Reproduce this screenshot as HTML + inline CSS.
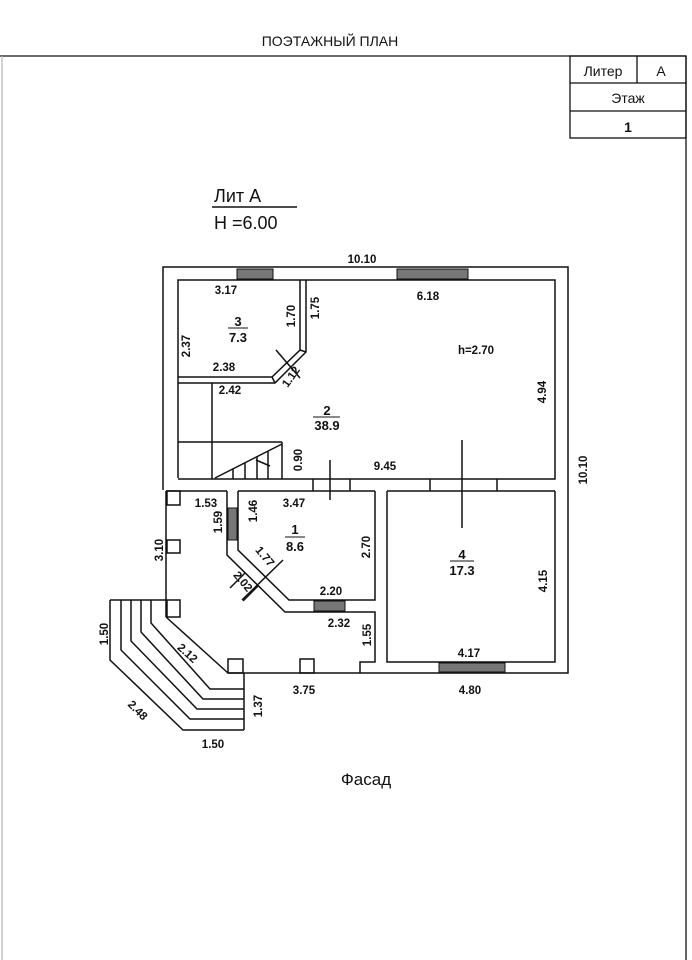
<!DOCTYPE html>
<html><head><meta charset="utf-8"><style>
html,body{margin:0;padding:0;background:#fff;}
svg{display:block;}
text{font-family:"Liberation Sans",sans-serif;fill:#111;}
.n{font-family:"Liberation Sans Narrow","Liberation Sans",sans-serif;font-size:11.5px;font-weight:bold;}
</style></head><body>
<svg width="692" height="960" viewBox="0 0 692 960" xmlns="http://www.w3.org/2000/svg">
<rect width="692" height="960" fill="#fff"/>
<g stroke="#111" stroke-width="1.3" fill="none">
<line x1="0" y1="56" x2="686" y2="56"/>
<line x1="686" y1="56" x2="686" y2="960"/>
<line x1="2" y1="56" x2="2" y2="960" stroke="#bbb"/>
<rect x="570" y="56" width="116" height="82"/>
<line x1="570" y1="83" x2="686" y2="83"/>
<line x1="570" y1="111" x2="686" y2="111"/>
<line x1="637" y1="56" x2="637" y2="83"/>
<line x1="212" y1="207" x2="297" y2="207" stroke-width="1.6"/>
</g>
<text x="330" y="46" font-size="14" text-anchor="middle">ПОЭТАЖНЫЙ ПЛАН</text>
<text x="603" y="76" font-size="14" text-anchor="middle">Литер</text>
<text x="661" y="76" font-size="14" text-anchor="middle">A</text>
<text x="628" y="103" font-size="14" text-anchor="middle">Этаж</text>
<text x="628" y="132" font-size="14" text-anchor="middle" font-weight="bold">1</text>
<text x="214" y="202" font-size="18">Лит   А</text>
<text x="214" y="229" font-size="18">Н =6.00</text>
<text x="366" y="785" font-size="17" text-anchor="middle">Фасад</text>

<g stroke="#111" stroke-width="1.5" fill="none">
<polyline points="163,490 163,267 568,267 568,673 228,673"/>
<polyline points="178,478 178,280 555,280 555,479 178,479"/>
<polyline points="178,377 272,377 300,350 300,280"/>
<polyline points="178,383 275,383 306,352 306,280"/>
<line x1="272" y1="377" x2="275" y2="383"/>
<line x1="300" y1="350" x2="306" y2="352"/>
<line x1="276" y1="350" x2="300" y2="378"/>
<line x1="212" y1="383" x2="212" y2="479"/>
<line x1="178" y1="442" x2="282" y2="442"/>
<line x1="282" y1="442" x2="282" y2="479"/>
<line x1="215" y1="478" x2="282" y2="444"/>
<line x1="233" y1="469" x2="233" y2="479"/>
<line x1="245" y1="463" x2="245" y2="479"/>
<line x1="257" y1="457" x2="257" y2="479"/>
<line x1="268" y1="451" x2="268" y2="479"/>
<line x1="256" y1="460" x2="270" y2="466"/>
<line x1="166" y1="491" x2="227" y2="491"/>
<line x1="166" y1="491" x2="166" y2="617"/>
<line x1="238" y1="491" x2="375" y2="491"/>
<line x1="387" y1="491" x2="555" y2="491"/>
<polyline points="387,491 387,662 555,662 555,491"/>
<polyline points="227,491 227,555 285,612 375,612 375,662 360,662 360,673"/>
<polyline points="238,491 238,550 289,600 375,600 375,491"/>
<line x1="245" y1="573" x2="230" y2="588"/>
<line x1="258" y1="586" x2="243" y2="601"/>
<line x1="242" y1="600" x2="283" y2="560"/>
<line x1="313" y1="479" x2="313" y2="491"/><line x1="350" y1="479" x2="350" y2="491"/>
<line x1="430" y1="479" x2="430" y2="491"/><line x1="497" y1="479" x2="497" y2="491"/>
<line x1="330" y1="460" x2="330" y2="500"/>
<line x1="462" y1="440" x2="462" y2="528"/>
<rect x="167" y="491" width="13" height="14"/>
<rect x="167" y="540" width="13" height="13"/>
<rect x="167" y="600" width="13" height="17"/>
<rect x="228" y="659" width="15" height="14"/>
<rect x="300" y="659" width="14" height="14"/>
<line x1="166" y1="617" x2="228" y2="673"/>
<polyline points="110,600 166,600"/>
<polyline points="110,600 110,660 183,730 244,730"/>
<polyline points="121,600 121,650 190,719 244,719"/>
<polyline points="131,600 131,641 197,709 244,709"/>
<polyline points="141,600 141,632 203,699 244,699"/>
<polyline points="151,600 151,623 210,689 244,689"/>
<line x1="244" y1="673" x2="244" y2="730"/>
</g>
<g fill="#777" stroke="#111" stroke-width="1">
<rect x="237" y="269" width="36" height="10"/>
<rect x="397" y="269" width="71" height="10"/>
<rect x="439" y="663" width="66" height="9"/>
<rect x="228" y="508" width="9" height="32"/>
<rect x="314" y="601" width="31" height="10"/>
</g>
<g class="n">
<text x="362" y="263" text-anchor="middle">10.10</text>
<text x="226" y="294" text-anchor="middle">3.17</text>
<text x="428" y="300" text-anchor="middle">6.18</text>
<text x="476" y="354" text-anchor="middle">h=2.70</text>
<text x="238" y="326" text-anchor="middle" font-size="13">3</text>
<line x1="228" y1="328" x2="248" y2="328" stroke="#111"/>
<text x="238" y="342" text-anchor="middle" font-size="13">7.3</text>
<text x="295" y="316" transform="rotate(-90 295 316)" text-anchor="middle">1.70</text>
<text x="319" y="308" transform="rotate(-90 319 308)" text-anchor="middle">1.75</text>
<text x="190" y="346" transform="rotate(-90 190 346)" text-anchor="middle">2.37</text>
<text x="224" y="371" text-anchor="middle">2.38</text>
<text x="230" y="394" text-anchor="middle">2.42</text>
<text x="294" y="379" transform="rotate(-55 294 379)" text-anchor="middle">1.12</text>
<text x="327" y="415" text-anchor="middle" font-size="13">2</text>
<line x1="313" y1="417" x2="340" y2="417" stroke="#111"/>
<text x="327" y="430" text-anchor="middle" font-size="13">38.9</text>
<text x="546" y="392" transform="rotate(-90 546 392)" text-anchor="middle">4.94</text>
<text x="302" y="460" transform="rotate(-90 302 460)" text-anchor="middle">0.90</text>
<text x="385" y="470" text-anchor="middle">9.45</text>
<text x="587" y="470" transform="rotate(-90 587 470)" text-anchor="middle">10.10</text>
<text x="206" y="507" text-anchor="middle">1.53</text>
<text x="294" y="507" text-anchor="middle">3.47</text>
<text x="257" y="511" transform="rotate(-90 257 511)" text-anchor="middle">1.46</text>
<text x="222" y="522" transform="rotate(-90 222 522)" text-anchor="middle">1.59</text>
<text x="295" y="534" text-anchor="middle" font-size="13">1</text>
<line x1="285" y1="537" x2="305" y2="537" stroke="#111"/>
<text x="295" y="551" text-anchor="middle" font-size="13">8.6</text>
<text x="370" y="547" transform="rotate(-90 370 547)" text-anchor="middle">2.70</text>
<text x="163" y="550" transform="rotate(-90 163 550)" text-anchor="middle">3.10</text>
<text x="262" y="559" transform="rotate(50 262 559)" text-anchor="middle">1.77</text>
<text x="240" y="584" transform="rotate(50 240 584)" text-anchor="middle">2.02</text>
<text x="331" y="595" text-anchor="middle">2.20</text>
<text x="339" y="627" text-anchor="middle">2.32</text>
<text x="371" y="635" transform="rotate(-90 371 635)" text-anchor="middle">1.55</text>
<text x="462" y="559" text-anchor="middle" font-size="13">4</text>
<line x1="450" y1="561" x2="474" y2="561" stroke="#111"/>
<text x="462" y="575" text-anchor="middle" font-size="13">17.3</text>
<text x="547" y="581" transform="rotate(-90 547 581)" text-anchor="middle">4.15</text>
<text x="469" y="657" text-anchor="middle">4.17</text>
<text x="470" y="694" text-anchor="middle">4.80</text>
<text x="304" y="694" text-anchor="middle">3.75</text>
<text x="185" y="656" transform="rotate(42 185 656)" text-anchor="middle">2.12</text>
<text x="108" y="634" transform="rotate(-90 108 634)" text-anchor="middle">1.50</text>
<text x="262" y="706" transform="rotate(-90 262 706)" text-anchor="middle">1.37</text>
<text x="135" y="713" transform="rotate(45 135 713)" text-anchor="middle">2.48</text>
<text x="213" y="748" text-anchor="middle">1.50</text>
</g>
</svg>
</body></html>
